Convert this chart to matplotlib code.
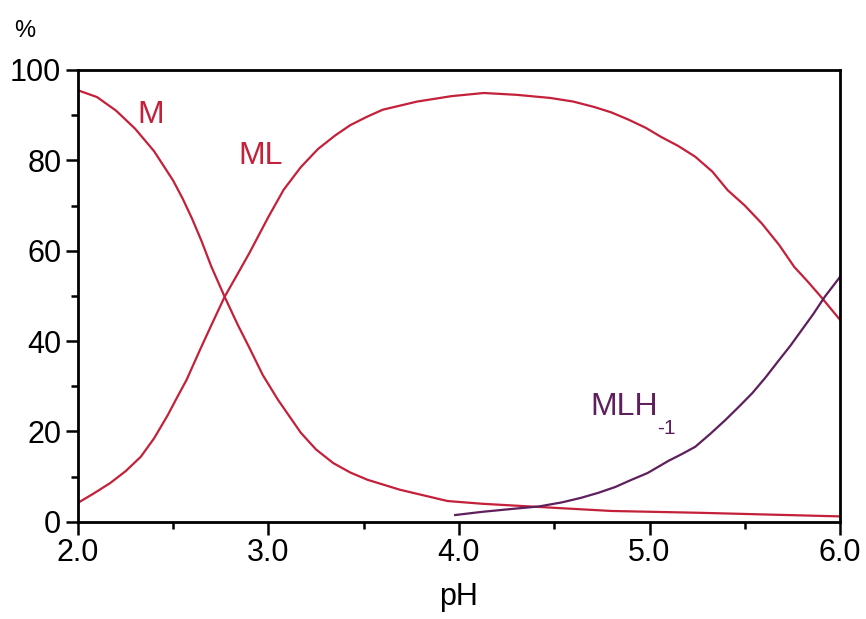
import matplotlib
matplotlib.use("Agg")
import matplotlib.pyplot as plt
from matplotlib.ticker import MultipleLocator, FormatStrFormatter

plt.rcParams.update({
    "font.family": ["Liberation Sans", "DejaVu Sans"],
})

# ─── data ────────────────────────────────────────────────────────────────────
ph_m = [2.0, 2.1, 2.2, 2.3, 2.4, 2.5, 2.55, 2.6, 2.65, 2.7, 2.77, 2.84, 2.9,
        2.97, 3.05, 3.17, 3.25, 3.34, 3.43, 3.52, 3.69, 3.8, 3.94, 4.12,
        4.33, 4.5, 4.8, 5.26, 5.63, 6.0]
pct_m = [95.5, 94.0, 91.0, 87.0, 82.0, 75.5, 71.5, 67.0, 62.0, 56.5, 49.8,
         43.5, 38.5, 32.5, 27.0, 19.7, 16.0, 13.0, 10.9, 9.3, 7.1, 6.0, 4.6,
         4.0, 3.5, 3.1, 2.4, 2.0, 1.6, 1.2]

ph_ml = [2.0, 2.08, 2.17, 2.25, 2.33, 2.4, 2.47, 2.52, 2.57, 2.64, 2.7,
         2.77, 2.84, 2.9, 3.0, 3.08, 3.17, 3.26, 3.35, 3.43, 3.52, 3.6, 3.78,
         3.96, 4.13, 4.3, 4.48, 4.6, 4.71, 4.8, 4.89, 4.98, 5.06, 5.15, 5.24,
         5.33, 5.41, 5.5, 5.59, 5.68, 5.76, 5.83, 5.9, 6.0]
pct_ml = [4.2, 6.2, 8.6, 11.2, 14.4, 18.5, 23.5, 27.5, 31.4, 38.0, 43.5,
          49.8, 55.0, 59.5, 67.5, 73.5, 78.5, 82.5, 85.5, 87.8, 89.7, 91.2,
          93.0, 94.2, 94.9, 94.5, 93.8, 93.0, 91.8, 90.6, 89.0, 87.2, 85.2,
          83.2, 80.8, 77.5, 73.4, 70.0, 66.0, 61.3, 56.4, 53.2, 49.8, 44.7]

ph_mlh = [3.98, 4.12, 4.29, 4.42, 4.54, 4.64, 4.73, 4.82, 4.9, 4.99, 5.1,
          5.17, 5.24, 5.32, 5.4, 5.47, 5.54, 5.61, 5.68, 5.74, 5.8, 5.86,
          5.92, 6.0]
pct_mlh = [1.5, 2.2, 2.9, 3.4, 4.3, 5.3, 6.4, 7.7, 9.2, 10.8, 13.5, 15.0,
           16.6, 19.5, 22.6, 25.5, 28.5, 32.0, 35.8, 39.0, 42.5, 46.0, 49.8,
           54.2]

RED = "#c4203a"
PURPLE = "#5e1f5c"

fig = plt.figure(figsize=(8.66, 6.19), dpi=100)
ax = fig.add_axes([0.090, 0.157, 0.880, 0.730])

ax.plot(ph_m, pct_m, color=RED, lw=1.6)
ax.plot(ph_ml, pct_ml, color=RED, lw=1.6)
ax.plot(ph_mlh, pct_mlh, color=PURPLE, lw=1.6)

ax.text(2.38, 90, "M", color=RED, fontsize=23, ha="center", va="center")
ax.text(2.96, 81, "ML", color=RED, fontsize=23, ha="center", va="center")
mlh = ax.text(4.69, 25.5, "MLH", color=PURPLE, fontsize=23,
              ha="left", va="center")
ax.annotate("-1", xy=(0.98, 0.1), xycoords=mlh, color=PURPLE, fontsize=15,
            ha="left", va="top")

ax.set_xlim(2.0, 6.0)
ax.set_ylim(0, 100)
ax.xaxis.set_major_locator(MultipleLocator(1.0))
ax.xaxis.set_minor_locator(MultipleLocator(0.5))
ax.xaxis.set_major_formatter(FormatStrFormatter("%.1f"))
ax.yaxis.set_major_locator(MultipleLocator(20))
ax.yaxis.set_minor_locator(MultipleLocator(10))

ax.tick_params(which="both", direction="out", width=1.8, top=False,
               right=False, labelsize=22, pad=3)
ax.tick_params(which="major", length=9)
ax.tick_params(which="minor", length=5)
for spine in ax.spines.values():
    spine.set_linewidth(2.0)

ax.set_xlabel("pH", fontsize=22, labelpad=10)
fig.text(0.028, 0.950, "%", fontsize=17, ha="center", va="center")

fig.savefig("out.png", dpi=100, facecolor="white")
